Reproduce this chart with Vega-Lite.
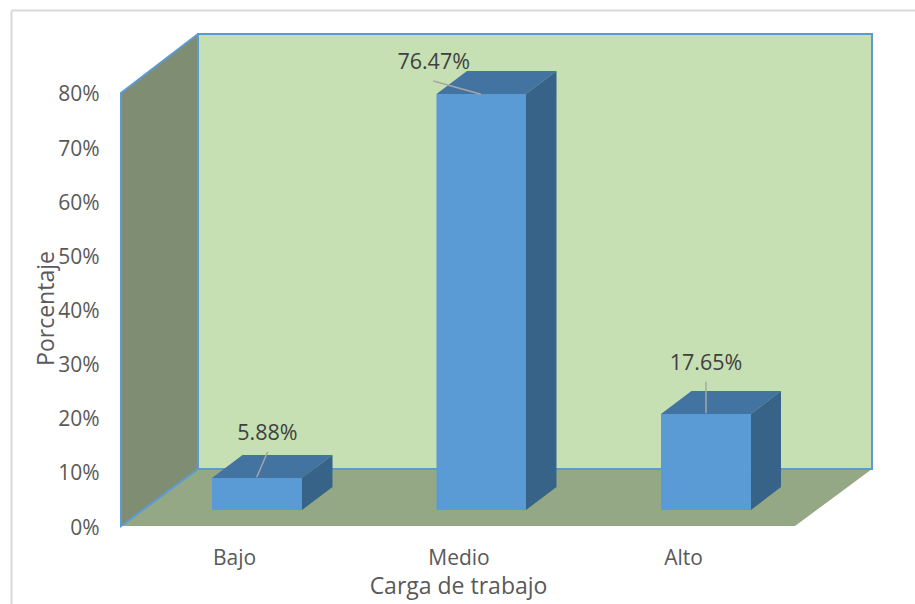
{
"$schema":"https://vega.github.io/schema/vega-lite/v6.json",
"width":751,"height":492,
"autosize":{"type":"none"},
"padding":{"left":121,"top":34,"right":43,"bottom":78},
"background":"white",
"view":{"stroke":null},
"config":{"font":"Open Sans"},
"datasets":{
"marco":[
{"x":-0.9911,"x2":-0.9911,"y":95.24,"y2":-14.41},
{"x":-0.9911,"x2":3.0334,"y":95.24,"y2":95.24}],
"suelo":[
{"x":-0.5033,"y":0,"y2":0},
{"x":-0.1604,"y":0,"y2":10.53},
{"x":2.4989,"y":0,"y2":10.53},
{"x":2.8419,"y":10.53,"y2":10.53}],
"paredLateral":[
{"x":-0.5033,"y":0,"y2":80},
{"x":-0.1604,"y":10.53,"y2":90.9}],
"paredFondo":[{"x":-0.1604,"x2":2.8419,"y":10.53,"y2":90.9}],
"bordeLateral":[
{"orden":1,"x":-0.1604,"y":10.53},
{"orden":2,"x":-0.5033,"y":0},
{"orden":3,"x":-0.5033,"y":80},
{"orden":4,"x":-0.1604,"y":90.9}],
"frente":[
{"categoria":"Bajo","x":-0.098,"x2":0.3029,"y":2.96,"y2":8.87},
{"categoria":"Medio","x":0.902,"x2":1.3007,"y":2.96,"y2":79.82},
{"categoria":"Alto","x":1.902,"x2":2.3029,"y":2.96,"y2":20.69}],
"superior":[
{"categoria":"Bajo","x":-0.098,"y":8.87,"y2":8.87},
{"categoria":"Bajo","x":0.0379,"y":8.87,"y2":13.12},
{"categoria":"Bajo","x":0.3029,"y":8.87,"y2":13.12},
{"categoria":"Bajo","x":0.4388,"y":13.12,"y2":13.12},
{"categoria":"Medio","x":0.902,"y":79.82,"y2":79.82},
{"categoria":"Medio","x":1.0379,"y":79.82,"y2":84.07},
{"categoria":"Medio","x":1.3007,"y":79.82,"y2":84.07},
{"categoria":"Medio","x":1.4365,"y":84.07,"y2":84.07},
{"categoria":"Alto","x":1.902,"y":20.69,"y2":20.69},
{"categoria":"Alto","x":2.0379,"y":20.69,"y2":24.94},
{"categoria":"Alto","x":2.3029,"y":20.69,"y2":24.94},
{"categoria":"Alto","x":2.4365,"y":24.94,"y2":24.94}],
"lateral":[
{"categoria":"Bajo","x":0.3029,"y":2.96,"y2":8.87},
{"categoria":"Bajo","x":0.4388,"y":7.21,"y2":13.12},
{"categoria":"Medio","x":1.3007,"y":2.96,"y2":79.82},
{"categoria":"Medio","x":1.4365,"y":7.21,"y2":84.07},
{"categoria":"Alto","x":2.3029,"y":2.96,"y2":20.69},
{"categoria":"Alto","x":2.4365,"y":7.21,"y2":24.94}],
"guias":[
{"categoria":"Bajo","x":0.1501,"y":13.73,"x2":0.1011,"y2":9.0},
{"categoria":"Medio","x":0.8878,"y":82.2,"x2":1.1002,"y2":79.76},
{"categoria":"Alto","x":2.1024,"y":26.66,"x2":2.1024,"y2":20.82}],
"etiquetas":[
{"categoria":"Bajo","porcentaje":"5.88%","x":0.1492,"y":17.0},
{"categoria":"Medio","porcentaje":"76.47%","x":0.8895,"y":85.5},
{"categoria":"Alto","porcentaje":"17.65%","x":2.1024,"y":29.93}]
},
"encoding":{
"x":{"field":"x","type":"quantitative",
"scale":{"domain":[-0.5033,2.8419],"nice":false,"zero":false},
"axis":{"values":[0,1,2],"labelExpr":"['Bajo','Medio','Alto'][datum.value]","title":"Carga de trabajo","grid":false,"ticks":false,"domain":false,"labelPadding":21,"labelFontSize":21,"labelColor":"#595959","labelFont":"Open Sans","labelFlush":false,"labelOverlap":false,"titleFontSize":23,"titleFontWeight":"normal","titleColor":"#595959","titleFont":"Open Sans","titleX":337,"titleY":67,"titleBaseline":"alphabetic","titleAnchor":"middle","titleAlign":"center"}},
"y":{"field":"y","type":"quantitative",
"scale":{"domain":[0,90.9],"nice":false,"zero":false},
"axis":{"values":[0,10,20,30,40,50,60,70,80],"labelExpr":"datum.value + '%'","title":"Porcentaje","grid":false,"ticks":false,"domain":false,"labelPadding":22,"labelFontSize":21,"labelOffset":2,"labelColor":"#595959","labelFont":"Open Sans","labelOverlap":false,"labelFlush":false,"titleFontSize":23,"titleFontWeight":"normal","titleColor":"#595959","titleFont":"Open Sans","titleX":-68,"titleY":274,"titleBaseline":"alphabetic","titleAnchor":"middle","titleAlign":"center","titleAngle":-90}}
},
"layer":[
{"data":{"name":"marco"},"mark":{"type":"rule","color":"#D9D9D9","strokeWidth":2,"clip":false},"encoding":{"x2":{"field":"x2"},"y2":{"field":"y2"}}},
{"data":{"name":"suelo"},"mark":{"type":"area","color":"#94A886"},"encoding":{"y2":{"field":"y2"}}},
{"data":{"name":"paredLateral"},"mark":{"type":"area","color":"#7F8D73"},"encoding":{"y2":{"field":"y2"}}},
{"data":{"name":"paredFondo"},"mark":{"type":"rect","fill":"#C6E0B4","stroke":"#5B9BD5","strokeWidth":2},"encoding":{"x2":{"field":"x2"},"y2":{"field":"y2"}}},
{"data":{"name":"bordeLateral"},"mark":{"type":"line","color":"#5B9BD5","strokeWidth":2},"encoding":{"order":{"field":"orden"}}},
{"data":{"name":"frente"},"mark":{"type":"rect","color":"#5B9BD5"},"encoding":{"x2":{"field":"x2"},"y2":{"field":"y2"}}},
{"data":{"name":"superior"},"mark":{"type":"area","color":"#4273A1"},"encoding":{"y2":{"field":"y2"},"detail":{"field":"categoria"}}},
{"data":{"name":"lateral"},"mark":{"type":"area","color":"#376388"},"encoding":{"y2":{"field":"y2"},"detail":{"field":"categoria"}}},
{"data":{"name":"guias"},"mark":{"type":"rule","color":"#A6A6A6","strokeWidth":1.5},"encoding":{"x2":{"field":"x2"},"y2":{"field":"y2"}}},
{"data":{"name":"etiquetas"},"mark":{"type":"text","fontSize":21.5,"font":"Open Sans","color":"#404040","baseline":"middle","align":"center"},"encoding":{"text":{"field":"porcentaje"}}}
]
}
